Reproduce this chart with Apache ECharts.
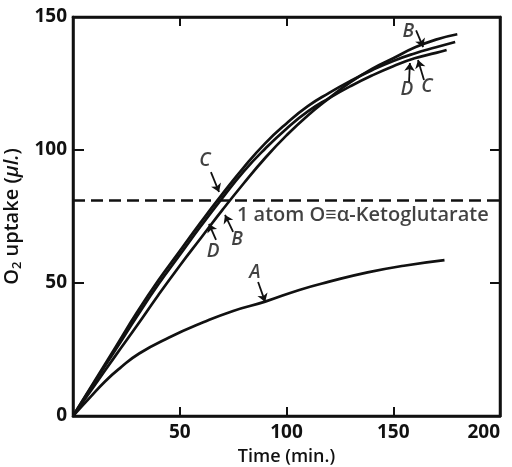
<!DOCTYPE html>
<html>
<head>
<meta charset="utf-8">
<script src="https://cdn.jsdelivr.net/npm/echarts@6/dist/echarts.min.js"></script>
<style>
  html, body { margin: 0; padding: 0; background: #fff; }
  #chart { width: 512px; height: 467px; }
</style>
</head>
<body>
<div id="chart"></div>
<script>
// curves: [time (min), O2 uptake (ul)]
const curveA = [[0, 0], [8, 7], [15, 13], [22, 18], [31, 23.5], [45, 29.5], [61, 35.2], [75, 39.5], [90, 43], [106, 47.4], [120, 50.5], [138, 54], [155, 56.5], [174, 58.6]];
const curveB = [[0, 0], [10, 11.4], [20, 22.8], [30, 34], [40, 45.5], [50, 56.5], [60, 67], [70, 77.5], [80, 87.5], [90, 97], [100, 105.5], [110, 113], [120, 119.5], [130, 125.5], [140, 130.5], [150, 134.5], [160, 138.5], [170, 141.5], [180, 143.5]];
const curveC = [[0, 0], [10, 13], [20, 26], [30, 39], [40, 51], [50, 62], [60, 73], [70, 83.5], [80, 93.5], [90, 102.5], [100, 110], [110, 116.5], [120, 121.5], [130, 126], [140, 130], [150, 133.5], [160, 136.3], [170, 138.6], [179, 140.6]];
const curveD = [[0, 0], [10, 12.6], [20, 25], [30, 37.5], [40, 49.5], [50, 60.5], [60, 71.5], [70, 82], [80, 92], [90, 100.5], [100, 108], [110, 114.5], [120, 119.5], [130, 124], [140, 128], [150, 131.5], [160, 134.5], [170, 136.5], [175, 137.6]];

// 1 atom O == alpha-ketoglutarate
const ketoLevel = 81;

const xTicks = [0, 50, 100, 150, 200];
const yTicks = [0, 50, 100, 150];

// letter labels [x, y, text]
const letters = [
  [61.8, 96.2, 'C'], [65.6, 61.7, 'D'], [76.8, 66.2, 'B'], [85.2, 53.8, 'A'],
  [157, 144.4, 'B'], [156.4, 122.6, 'D'], [165.8, 123.7, 'C']
];
// arrows from letter to curve [[x1, y1], [x2, y2]]
const arrows = [
  [[64.6, 91.7], [68.4, 84.2]],
  [[67, 66.2], [63.7, 72.2]],
  [[75, 69.2], [71.2, 75.6]],
  [[86.7, 50.4], [90, 42.9]],
  [[160.7, 145], [164, 138.7]],
  [[157.4, 125.6], [157.8, 132.7]],
  [[164.4, 126.3], [161.6, 133.8]]
];
const ketoText = [[76.8, 75.6, '1 atom O\u2261\u03b1-Ketoglutarate']];

(function () {
  let myChart = echarts.init(document.getElementById('chart'));
  const font = 'Open Sans';
  const black = '#111';

  function curve(name, data) {
    return {
      name: name,
      type: 'line',
      data: data,
      smooth: true,
      showSymbol: false,
      symbol: 'none',
      lineStyle: { color: black, width: 2.7 },
      silent: true
    };
  }

  let option = {
    animation: false,
    backgroundColor: '#fff',
    grid: {
      left: 73, right: 12, top: 17, bottom: 51,
      outerBoundsMode: 'none',
      containLabel: false,
      show: true, borderColor: black, borderWidth: 2.5, backgroundColor: 'transparent'
    },
    xAxis: [{
      type: 'value',
      min: xTicks[0], max: xTicks[xTicks.length - 1], interval: 50,
      name: 'Time (min.)',
      nameLocation: 'middle',
      nameGap: 32,
      nameTextStyle: { fontFamily: font, fontSize: 18, fontWeight: 600, color: black },
      axisLine: { lineStyle: { color: black, width: 2.5 } },
      axisTick: { inside: true, length: 9, lineStyle: { color: black, width: 2 } },
      axisLabel: {
        fontFamily: font, fontSize: 19, fontWeight: 'bold', color: black, margin: 7,
        alignMaxLabel: 'right',
        formatter: function (v) { return v === 0 ? '' : v; }
      },
      splitLine: { show: false }
    }, {
      type: 'value', position: 'top',
      min: xTicks[0], max: xTicks[xTicks.length - 1], interval: 50,
      axisLine: { show: true, onZero: false, lineStyle: { color: black, width: 2.5 } },
      axisTick: { show: true, inside: true, length: 9, lineStyle: { color: black, width: 2 } },
      axisLabel: { show: false },
      splitLine: { show: false }
    }],
    yAxis: [{
      type: 'value',
      min: yTicks[0], max: yTicks[yTicks.length - 1], interval: 50,
      name: '{t|O}{s|2}{t| uptake (}{i|\u03bcl.}{t|)}',
      nameLocation: 'middle',
      nameGap: 45,
      nameRotate: 90,
      nameTextStyle: {
        rich: {
          t: { fontFamily: font, fontSize: 20, fontWeight: 600, color: black },
          s: { fontFamily: font, fontSize: 13, fontWeight: 600, color: black, verticalAlign: 'bottom', padding: [9, 0, 0, 0] },
          i: { fontFamily: font, fontSize: 20, fontWeight: 600, fontStyle: 'italic', color: black }
        }
      },
      axisLine: { lineStyle: { color: black, width: 2.5 } },
      axisTick: { inside: true, length: 11, lineStyle: { color: black, width: 2 } },
      axisLabel: { fontFamily: font, fontSize: 19, fontWeight: 'bold', color: black, margin: 6 },
      splitLine: { show: false }
    }, {
      type: 'value', position: 'right',
      min: yTicks[0], max: yTicks[yTicks.length - 1], interval: 50,
      axisLine: { show: true, onZero: false, lineStyle: { color: black, width: 2.5 } },
      axisTick: { show: true, inside: true, length: 10, lineStyle: { color: black, width: 2 } },
      axisLabel: { show: false },
      splitLine: { show: false }
    }],
    series: [
      curve('A', curveA),
      curve('B', curveB),
      curve('C', curveC),
      curve('D', curveD),
      {
        name: 'keto',
        type: 'line',
        data: [],
        markLine: {
          silent: true,
          symbol: 'none',
          label: { show: false },
          lineStyle: { color: black, width: 2.7, type: [12, 6] },
          data: [{ yAxis: ketoLevel }]
        }
      },
      {
        name: 'arrows',
        type: 'lines',
        coordinateSystem: 'cartesian2d',
        symbol: ['none', 'arrow'],
        symbolSize: 8,
        lineStyle: { color: black, width: 1.8, opacity: 1 },
        data: arrows.map(function (a) { return { coords: a }; }),
        silent: true
      },
      {
        name: 'letters',
        type: 'scatter',
        symbolSize: 0,
        data: letters,
        label: {
          show: true,
          position: 'inside',
          formatter: function (p) { return p.data[2]; },
          fontFamily: font, fontSize: 19, fontStyle: 'italic', fontWeight: 600, color: black
        },
        silent: true
      },
      {
        name: 'ketoText',
        type: 'scatter',
        symbolSize: 0,
        data: ketoText,
        label: {
          show: true,
          position: 'right',
          distance: 0,
          formatter: function (p) { return p.data[2]; },
          fontFamily: font, fontSize: 20, fontWeight: 600, color: black
        },
        silent: true
      },
      // empty series so the top and right axes are drawn
      { type: 'line', xAxisIndex: 1, yAxisIndex: 1, data: [], silent: true }
    ]
  };
  myChart.setOption(option);

  window.addEventListener('resize', function () {
    myChart.resize();
  });
})();
</script>
</body>
</html>
